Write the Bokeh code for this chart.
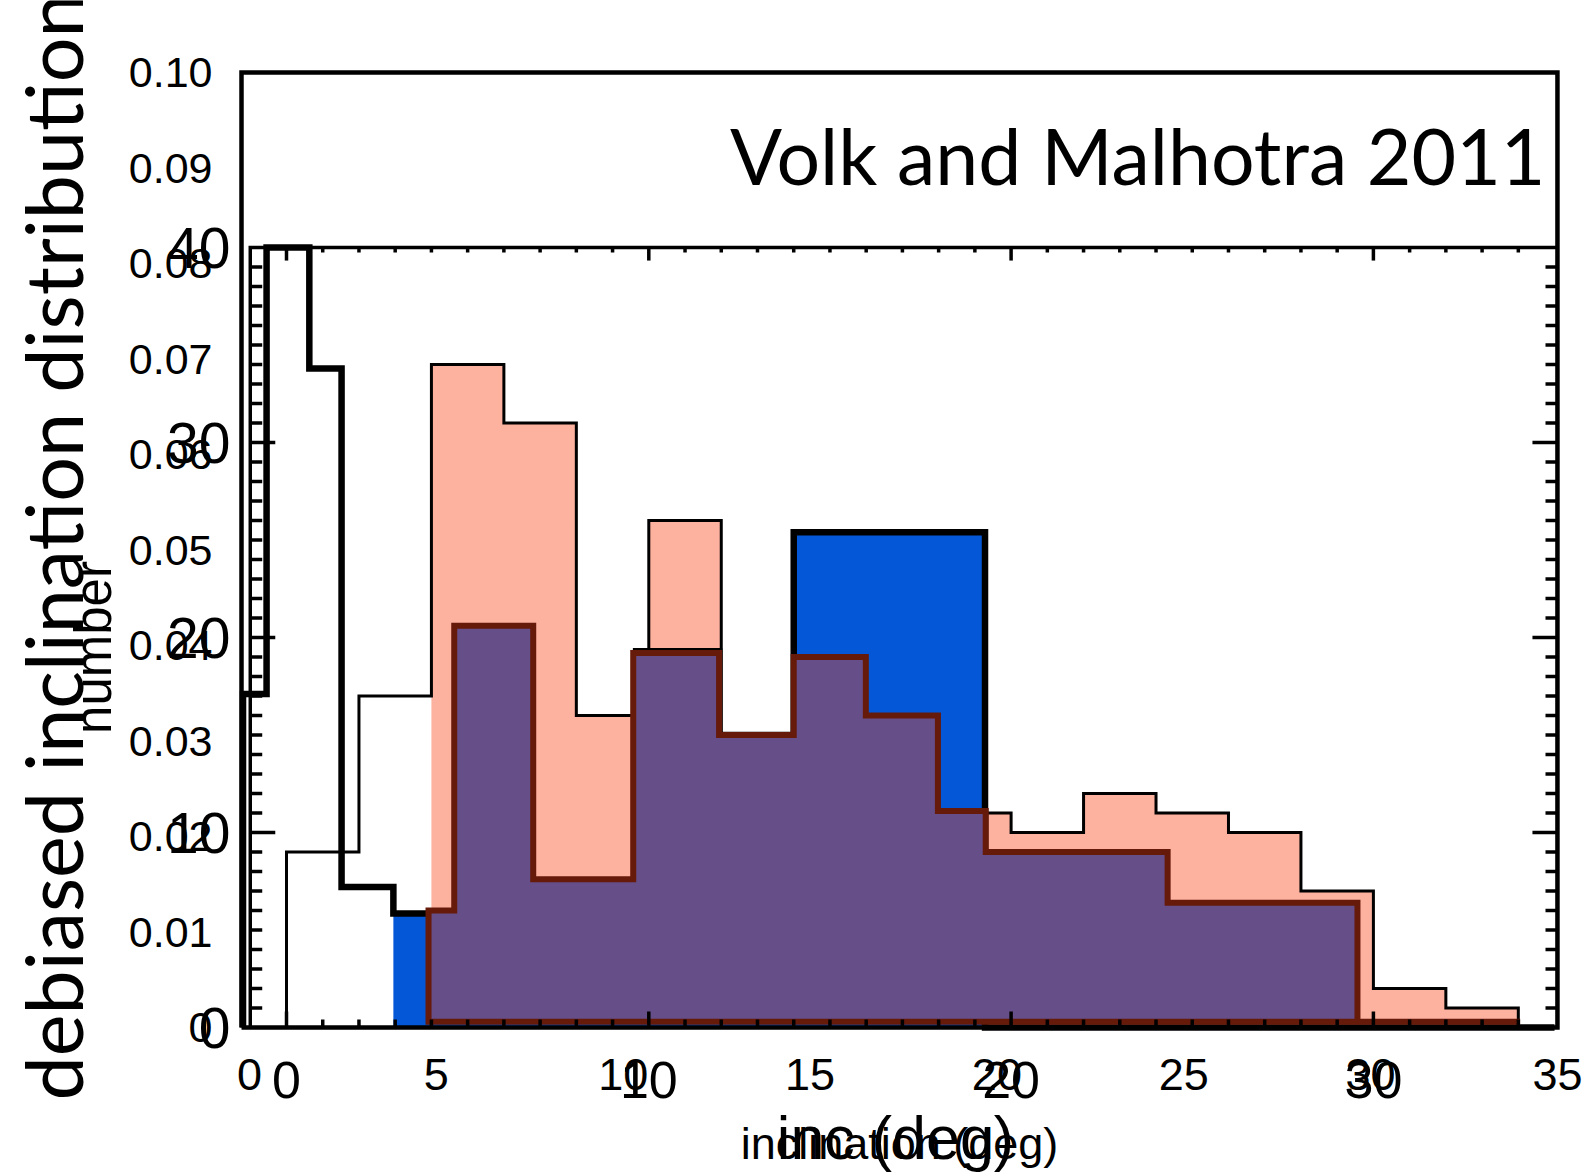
import numpy as np
from bokeh.plotting import figure
from bokeh.models import Range1d, FixedTicker
from bokeh.core.properties import value
from bokeh.embed import file_html
from bokeh.resources import INLINE

# ---------------- data ----------------
# outer panel: debiased inclination distribution vs inclination (deg)
a_xticks = [0, 5, 10, 15, 20, 25, 30, 35]
a_xticklabels = ["0", "5", "10", "15", "20", "25", "30", "35"]
a_yticks = [0.0, 0.01, 0.02, 0.03, 0.04, 0.05, 0.06, 0.07, 0.08, 0.09, 0.10]
a_yticklabels = ["0", "0.01", "0.02", "0.03", "0.04", "0.05", "0.06",
                 "0.07", "0.08", "0.09", "0.10"]

# inset panel: number vs inc (deg)
b_xticks = [0, 10, 20, 30]
b_xticklabels = ["0", "10", "20", "30"]
b_yticks = [0, 10, 20, 30, 40]
b_yticklabels = ["0", "10", "20", "30", "40"]

# thin black histogram (2 deg bins)
obs_edges = [0, 2, 4, 6, 8, 10, 12, 14, 16, 18, 20, 22, 24, 26, 28, 30, 32, 34]
obs_counts = [9, 17, 34, 31, 16, 26, 15, 19, 16, 11, 10, 12, 11, 10, 7, 2, 1]

# salmon filled histogram
salmon_edges = [4, 6, 8, 10, 12, 14, 16, 18, 20, 22, 24, 26, 28, 30, 32, 34]
salmon_counts = [34, 31, 16, 26, 15, 19, 16, 11, 10, 12, 11, 10, 7, 2, 1]

# thick black histogram
blk_edges = [-1.2, -0.55, 0.63, 1.52, 2.95, 9.65, 11.94, 14.0, 19.28, 35.0]
blk_counts = [17.1, 40.0, 33.8, 7.2, 5.85, 19.3, 15.0, 25.4, 0.0]

# blue filled part of the thick black histogram
blue_edges = [2.95, 9.65, 11.94, 14.0, 19.28]
blue_counts = [5.85, 19.3, 15.0, 25.4]

# dark red outlined / purple filled histogram
brn_edges = [3.92, 4.63, 6.81, 9.57, 11.94, 14.0, 15.99, 17.98, 19.3, 24.32, 29.56, 34.05]
brn_counts = [6.0, 20.6, 7.6, 19.2, 15.0, 19.0, 16.0, 11.1, 9.0, 6.4, 0.3]
brn_base = 0.3

# ---------------- layout constants (canvas pixels, origin top-left) ----------------
W, H = 1594, 1172
A_PX0, A_PPU_X = 249.0, 37.37      # outer panel: pixel of x=0, pixels per degree
A_PY0, A_PPU_Y = 1027.0, 9550.0    # outer panel: pixel of y=0, pixels per unit
B_PX0, B_PPU_X = 286.0, 36.23      # inset: pixel of x=0, pixels per degree
B_PY0, B_PPU_Y = 1027.0, 19.5      # inset: pixel of y=0, pixels per count

A_XL, A_XR = -0.214, 35.0          # outer frame extent (data)
A_YB, A_YT = 0.0, 0.10
B_XL, B_YT = -1.0, 40.0            # inset frame left / top (data)

SALMON = "#FDB19F"
BLUE = "#0458D8"
PURPLE = "#664E88"
BROWN = "#661A0A"
IDL_FONT = "Liberation Sans"
GILL_FONT = "Lato"


def ax(px):
    return (px - A_PX0) / A_PPU_X


def ay(py):
    return (A_PY0 - py) / A_PPU_Y


def bx(px):
    return (px - B_PX0) / B_PPU_X


def by(py):
    return (B_PY0 - py) / B_PPU_Y


B_XR = bx(A_PX0 + A_XR * A_PPU_X)   # inset right edge = outer right edge


def step_path(edges, counts, base=0.0):
    xs, ys = [edges[0]], [base]
    for i, c in enumerate(counts):
        xs += [edges[i], edges[i + 1]]
        ys += [c, c]
    xs.append(edges[-1])
    ys.append(base)
    return xs, ys


p = figure(width=W, height=H, output_backend="svg", toolbar_location=None,
           x_range=Range1d(ax(0), ax(W)), y_range=Range1d(ay(H), ay(0)),
           min_border_left=0, min_border_right=0, min_border_top=0, min_border_bottom=0)
p.extra_x_ranges = {"b": Range1d(bx(0), bx(W))}
p.extra_y_ranges = {"b": Range1d(by(H), by(0))}
p.grid.visible = False
p.background_fill_color = "white"
p.border_fill_color = "white"
p.outline_line_color = None

# outer axes (fixed on the outer frame edges)
xa = p.xaxis[0]
ya = p.yaxis[0]
xa.fixed_location = A_YB
ya.fixed_location = A_XL
xa.ticker = FixedTicker(ticks=a_xticks)
xa.major_label_overrides = {t: l for t, l in zip(a_xticks, a_xticklabels)}
ya.ticker = FixedTicker(ticks=a_yticks)
ya.major_label_overrides = {t: l for t, l in zip(a_yticks, a_yticklabels)}
for axis in (xa, ya):
    axis.axis_line_color = None
    axis.major_tick_line_color = None
    axis.minor_tick_line_color = None
    axis.major_tick_in = 0
    axis.major_tick_out = 0
    axis.major_label_text_font = IDL_FONT
    axis.major_label_text_color = "black"
xa.major_label_text_font_size = "45px"
ya.major_label_text_font_size = "43px"
xa.major_label_standoff = 31
ya.major_label_standoff = 29

B = dict(x_range_name="b", y_range_name="b")

# salmon fill
sx, sy = step_path(salmon_edges, salmon_counts)
p.patch(sx, sy, fill_color=SALMON, line_color=None, **B)
# blue fill
bxs, bys = step_path(blue_edges, blue_counts)
p.patch(bxs, bys, fill_color=BLUE, line_color=None, **B)
# thin black histogram
ox, oy = step_path(obs_edges, obs_counts)
p.line(ox, oy, line_color="black", line_width=3, line_join="miter", **B)
# thick black histogram
kx, ky = step_path(blk_edges, blk_counts)
p.line(kx, ky, line_color="black", line_width=6.5, line_join="miter", **B)
# purple / dark red histogram
rx, ry = step_path(brn_edges, brn_counts, base=brn_base)
p.patch(rx, ry, fill_color=PURPLE, line_color=BROWN, line_width=6,
        line_join="miter", **B)

# inset frame (left and top)
p.line([B_XL, B_XL, B_XR], [0, B_YT, B_YT], line_color="black",
       line_width=3.5, line_join="miter", **B)

# inset ticks
xmin = [v for v in range(0, 35) if v not in b_xticks]
ymin = [v for v in range(1, 40) if v not in b_yticks]
ymaj = [v for v in b_yticks if 0 < v < 40]
tx0, ty0, tx1, ty1 = [], [], [], []
for v, lt, lb in [(v, 0.26, 0.41) for v in xmin] + [(v, 0.67, 0.82) for v in b_xticks]:
    tx0 += [v, v]
    tx1 += [v, v]
    ty0 += [B_YT, 0]
    ty1 += [B_YT - lt, lb]
for v, ln in [(v, 0.33) for v in ymin] + [(v, 0.69) for v in ymaj]:
    tx0 += [B_XL, B_XR]
    tx1 += [B_XL + ln, B_XR - ln]
    ty0 += [v, v]
    ty1 += [v, v]
p.segment(tx0, ty0, tx1, ty1, line_color="black", line_width=3.5, **B)

# inset tick labels
p.text(x=[bx(230)] * len(b_yticks), y=b_yticks, text=b_yticklabels,
       text_align="right", text_baseline="middle", text_font=value(IDL_FONT),
       text_font_size="57px", text_color="black", **B)
p.text(x=b_xticks, y=[by(1079)] * len(b_xticks), text=b_xticklabels,
       text_align="center", text_baseline="middle", text_font=value(IDL_FONT),
       text_font_size="52px", text_color="black", **B)

# titles / axis titles (anchored on the middle of the letters)
p.text(x=[ax(1545)], y=[ay(154)], text=["Volk and Malhotra 2011"],
       text_align="right", text_baseline="middle", text_font=value(GILL_FONT),
       text_font_size="77px", text_color="black")
p.text(x=[ax(52)], y=[ay(1100)], text=["debiased inclination distribution"],
       angle=np.pi / 2, text_align="left", text_baseline="middle",
       text_font=value(GILL_FONT), text_font_size="79px", text_color="black")
p.text(x=[ax(93)], y=[ay(647)], text=["number"], angle=np.pi / 2,
       text_align="center", text_baseline="middle", text_font=value(IDL_FONT),
       text_font_size="51px", text_color="black")
p.text(x=[ax(899)], y=[ay(1143)], text=["inclination (deg)"],
       text_align="center", text_baseline="middle", text_font=value(IDL_FONT),
       text_font_size="45px", text_color="black")
p.text(x=[ax(895)], y=[ay(1137)], text=["inc (deg)"],
       text_align="center", text_baseline="middle", text_font=value(IDL_FONT),
       text_font_size="61px", text_color="black")

# outer frame on top
p.line([A_XL, A_XR, A_XR, A_XL, A_XL], [A_YB, A_YB, A_YT, A_YT, A_YB],
       line_color="black", line_width=4.5, line_join="miter")

open("out.html", "w").write(file_html(p, INLINE))
